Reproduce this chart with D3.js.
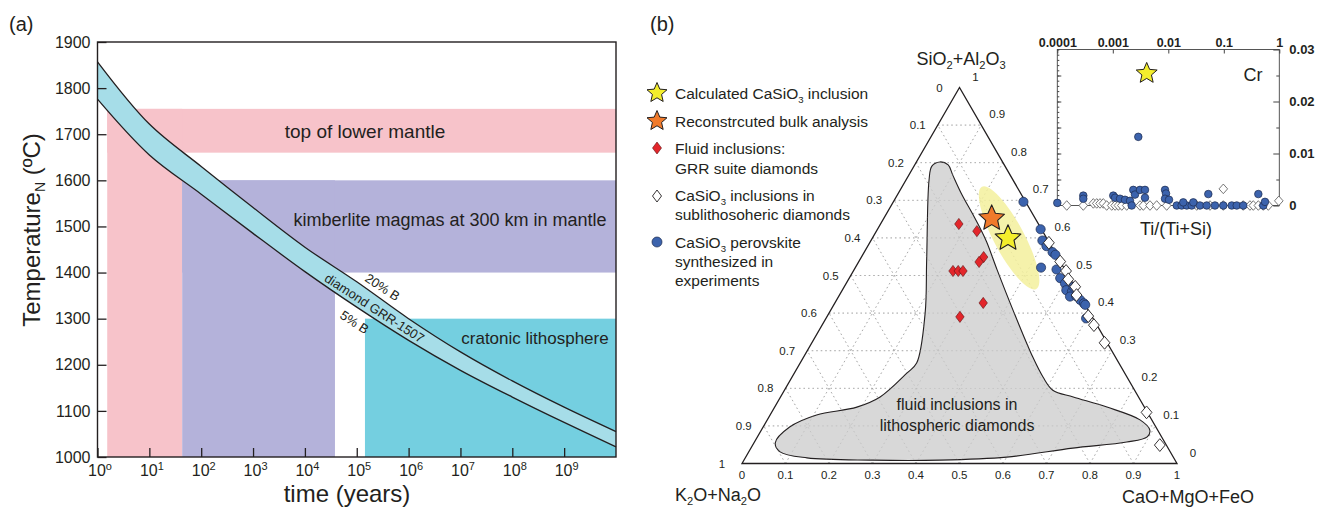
<!DOCTYPE html>
<html lang="en">
<head>
<meta charset="UTF-8">
<script src="https://d3js.org/d3.v7.min.js"></script>
<style>
  body { margin: 0; background: #fff; }
  svg { font-family: "Liberation Sans", Arial, sans-serif; }
  text { fill: #231f20; }
</style>
</head>
<body>
<svg id="fig" width="1324" height="512"></svg>
<script>
// ---------- panel (a) data ----------
const years = [1, 1e1, 1e2, 1e3, 1e4, 1e5, 1e6, 1e7, 1e8, 1e9, 1e10];
const upper20B = [1857, 1722, 1630, 1541, 1455, 1380, 1300, 1228, 1165, 1108, 1055];
const lower5B = [1776, 1655, 1570, 1485, 1402, 1325, 1253, 1188, 1130, 1075, 1022];
const tempTicks = [1000, 1100, 1200, 1300, 1400, 1500, 1600, 1700, 1800, 1900];
const timeTicks = [1, 1e1, 1e2, 1e3, 1e4, 1e5, 1e6, 1e7, 1e8, 1e9];
const timeExp = ["o", "1", "2", "3", "4", "5", "6", "7", "8", "9"];
// shaded fields: [tmin, tmax] years and [Tmin, Tmax]
const zoneKind = ["mantle", "mantle", "kimb", "kimb", "craton"];
const zoneTime = [[1.54, 1e10], [1.54, 43], [43, 1e10], [43, 3.8e4], [1.44e5, 1e10]];
const zoneTemp = [[1660, 1755], [1000, 1755], [1400, 1600], [1000, 1600], [1000, 1300]];

// ---------- panel (b) ternary data: [CaO+MgO+FeO, SiO2+Al2O3] ----------
const fluidField = [[0.054,0.802],[0.077,0.794],[0.101,0.767],[0.149,0.714],[0.196,0.666],[0.239,0.621],
  [0.268,0.589],[0.329,0.515],[0.419,0.408],[0.527,0.283],[0.577,0.230],[0.617,0.195],[0.673,0.177],
  [0.764,0.150],[0.857,0.116],[0.893,0.089],[0.896,0.071],[0.856,0.057],[0.740,0.041],[0.600,0.017],
  [0.450,0.009],[0.296,0.009],[0.142,0.015],[0.072,0.031],[0.049,0.055],[0.061,0.097],[0.107,0.129],
  [0.189,0.150],[0.229,0.177],[0.259,0.241],[0.268,0.267],[0.221,0.400],[0.154,0.541],[0.053,0.754],[0.041,0.791]];
const grrFluids = [[0.180,0.637],[0.231,0.618],[0.281,0.549],[0.277,0.536],[0.229,0.512],[0.241,0.512],
  [0.252,0.512],[0.341,0.427],[0.306,0.390]];
const sublithoCaSiO3 = [[0.412,0.587],[0.463,0.537],[0.489,0.512],[0.505,0.490],[0.531,0.470],[0.545,0.448],
  [0.600,0.392],[0.625,0.368],[0.673,0.321],[0.862,0.136],[0.936,0.049]];
const perovskiteExp = [[0.299,0.696],[0.375,0.623],[0.394,0.593],[0.411,0.578],[0.433,0.562],[0.443,0.555],
  [0.427,0.521],[0.465,0.516],[0.485,0.493],[0.503,0.479],[0.515,0.461],[0.530,0.457],[0.532,0.444],
  [0.546,0.445],[0.560,0.435],[0.573,0.426],[0.578,0.422],[0.598,0.386],[0.527,0.470]];
const calcInclusion = [0.312, 0.599];
const bulkAnalysis = [0.248, 0.652];
const highlightCentre = [0.314, 0.600];
const ternTicks = [0, 0.1, 0.2, 0.3, 0.4, 0.5, 0.6, 0.7, 0.8, 0.9, 1];

// ---------- inset data: Ti/(Ti+Si) vs Cr ----------
const insetPerovskite = [[0.0001,0.0005],[0.000294,0.0019],[0.000294,0.0013],[0.00102,0.0019],[0.0011,0.0015],
  [0.00135,0.0013],[0.00166,0.0011],[0.00204,0.0009],[0.00234,0.0030],[0.00251,0.0021],[0.00309,0.0030],
  [0.0038,0.0030],[0.0038,0.0015],[0.00873,0.0030],[0.0091,0.0023],[0.00873,0.0013],[0.0103,0.0011],
  [0.00219,0],[0.0142,0],[0.0174,0],[0.0215,0],[0.0264,0],[0.0372,0],[0.0492,0],[0.0693,0],[0.098,0],
  [0.139,0],[0.171,0],[0.224,0],[0.515,0],[0.0186,0.0006],[0.0282,0.0006],[0.0526,0.0022],[0.419,0.0022],
  [0.552,0.0007],[0.00288,0.0132]];
const insetSublitho = [[0.000148,0],[0.000294,0],[0.000446,0.0004],[0.000513,0.0004],[0.000588,0.0004],
  [0.000675,0.0004],[0.000776,0],[0.000955,0],[0.0011,0],[0.00126,0],[0.00145,0],[0.00178,0],[0.00309,0],
  [0.00355,0],[0.00468,0],[0.00618,0],[0.00935,0],[0.0325,0],[0.0564,0],[0.098,0],[0.098,0.0032],[0.224,0],
  [0.296,0],[0.34,0],[0.419,0],[0.515,0],[0.634,0],[0.98,0.0009]];
const insetStar = [0.00408, 0.0254];
const insetXTicks = [0.0001, 0.001, 0.01, 0.1, 1];
const insetYTicks = [0, 0.01, 0.02, 0.03];

const colors = { mantle: "#f7c3ca", kimb: "#b4b2da", craton: "#74cfe0", band: "#a6dde8",
  field: "#d4d4d4", glow: "#f3f09c", red: "#e3262b", blue: "#3c63ad", yellow: "#f4ee2c", orange: "#f07a2b" };

const svg = d3.select("#fig");

function star(R, r) {
  const pts = [];
  for (let i = 0; i < 10; i++) {
    const ang = -Math.PI / 2 + i * Math.PI / 5;
    const rr = i % 2 ? r : R;
    pts.push([rr * Math.cos(ang), rr * Math.sin(ang)]);
  }
  return "M" + pts.join("L") + "Z";
}
function rhombus(w, h) {
  return `M0,${-h}L${w},0L0,${h}L${-w},0Z`;
}

// =================== panel (a) ===================
const x = d3.scaleLog().domain([1, 1e10]).range([97.5, 616]);
const y = d3.scaleLinear().domain([1000, 1900]).range([457, 42]);
const a = svg.append("g");

a.selectAll("rect.zone").data(zoneKind).join("rect")
  .attr("class", "zone")
  .attr("x", (d, i) => x(zoneTime[i][0]))
  .attr("width", (d, i) => x(zoneTime[i][1]) - x(zoneTime[i][0]))
  .attr("y", (d, i) => y(zoneTemp[i][1]))
  .attr("height", (d, i) => y(zoneTemp[i][0]) - y(zoneTemp[i][1]))
  .attr("fill", d => colors[d]);

const band = years.map((t, i) => ({ t, hi: upper20B[i], lo: lower5B[i] }));
a.append("path").datum(band)
  .attr("fill", colors.band)
  .attr("d", d3.area().curve(d3.curveCatmullRom).x(d => x(d.t)).y0(d => y(d.lo)).y1(d => y(d.hi)));
["hi", "lo"].forEach(k => {
  a.append("path").datum(band)
    .attr("fill", "none").attr("stroke", "#231f20").attr("stroke-width", 1.3)
    .attr("d", d3.line().curve(d3.curveCatmullRom).x(d => x(d.t)).y(d => y(d[k])));
});

// zone labels
a.append("text").attr("x", 365).attr("y", 138).attr("text-anchor", "middle")
  .style("font-size", "19px").text("top of lower mantle");
a.append("text").attr("x", 450).attr("y", 226).attr("text-anchor", "middle")
  .style("font-size", "18px").text("kimberlite magmas at 300 km in mantle");
a.append("text").attr("x", 535).attr("y", 344).attr("text-anchor", "middle")
  .style("font-size", "17px").text("cratonic lithosphere");
[["20% B", 380, 291], ["diamond GRR-1507", 372, 312], ["5% B", 352, 326]].forEach(([s, px, py]) => {
  a.append("text").attr("transform", `translate(${px},${py}) rotate(33)`)
    .attr("text-anchor", "middle").style("font-size", "13px").text(s);
});

// axes
const yAx = a.append("g").attr("transform", "translate(97.5,0)")
  .call(d3.axisLeft(y).tickValues(tempTicks).tickFormat(d3.format("d"))
    .tickSizeInner(-9).tickSizeOuter(0).tickPadding(7));
yAx.selectAll("text").style("font-size", "16px").attr("fill", "#231f20");
const xAx = a.append("g").attr("transform", "translate(0,457)")
  .call(d3.axisBottom(x).tickValues(timeTicks).tickSizeInner(-9).tickSizeOuter(0).tickPadding(8));
xAx.selectAll("text").text(null).attr("dx", 2).style("font-size", "16px").attr("fill", "#231f20")
  .each(function (d, i) {
    const t = d3.select(this);
    t.append("tspan").text("10");
    t.append("tspan").attr("dy", -6).style("font-size", "11px").text(timeExp[i]);
  });
[yAx, xAx].forEach(g => { g.select(".domain").remove(); g.selectAll("line").attr("stroke", "#231f20").attr("stroke-width", 1.3); });
a.append("rect").attr("x", 97.5).attr("y", 42).attr("width", 616 - 97.5).attr("height", 457 - 42)
  .attr("fill", "none").attr("stroke", "#231f20").attr("stroke-width", 1.4);

a.append("text").attr("x", 347).attr("y", 502).attr("text-anchor", "middle")
  .style("font-size", "24px").text("time (years)");
const yt = a.append("text").attr("transform", "translate(40,230) rotate(-90)")
  .attr("text-anchor", "middle").style("font-size", "24px");
yt.append("tspan").text("Temperature");
yt.append("tspan").attr("dy", 5).style("font-size", "14px").text("N");
yt.append("tspan").attr("dy", -5).text(" (\u00baC)");
svg.append("text").attr("x", 9).attr("y", 31).style("font-size", "20px").text("(a)");

// =================== panel (b) ternary ===================
const tx = d3.scaleLinear().domain([0, 1]).range([742, 1177]);
const ty = d3.scaleLinear().domain([0, 1]).range([463.5, 87.5]);
const P = ([c, s]) => [tx(c + s / 2), ty(s)];
const b = svg.append("g");

svg.append("text").attr("x", 650).attr("y", 31).style("font-size", "20px").text("(b)");

// grid
const inner = ternTicks.slice(1, -1);
const gridSegs = [];
inner.forEach(k => {
  gridSegs.push([[0, k], [1 - k, k]]);
  gridSegs.push([[k, 0], [k, 1 - k]]);
  gridSegs.push([[1 - k, 0], [0, 1 - k]]);
});
b.selectAll("line.grid").data(gridSegs).join("line")
  .attr("class", "grid")
  .attr("x1", d => P(d[0])[0]).attr("y1", d => P(d[0])[1])
  .attr("x2", d => P(d[1])[0]).attr("y2", d => P(d[1])[1])
  .attr("stroke", "#9a9a9a").attr("stroke-width", 0.8).attr("stroke-dasharray", "1.5,3");

// fluid field (grid shows through lightly)
b.append("path").datum(fluidField)
  .attr("d", d3.line().curve(d3.curveCatmullRomClosed.alpha(0.5)).x(d => P(d)[0]).y(d => P(d)[1]))
  .attr("fill", colors.field).attr("fill-opacity", 0.9).attr("stroke", "#231f20").attr("stroke-width", 1.1);
b.selectAll("line.grid2").data(gridSegs).join("line")
  .attr("class", "grid2")
  .attr("x1", d => P(d[0])[0]).attr("y1", d => P(d[0])[1])
  .attr("x2", d => P(d[1])[0]).attr("y2", d => P(d[1])[1])
  .attr("stroke", "#a8a8a8").attr("stroke-width", 0.6).attr("stroke-dasharray", "1.5,3").attr("opacity", 0.5);

// triangle frame
b.append("path").datum([[0, 0], [1, 0], [0, 1]])
  .attr("d", d => "M" + d.map(P).join("L") + "Z")
  .attr("fill", "none").attr("stroke", "#231f20").attr("stroke-width", 1.3);

// highlight ellipse
const hc = P(highlightCentre);
b.append("ellipse").attr("cx", hc[0]).attr("cy", hc[1])
  .attr("rx", tx(0.133) - tx(0)).attr("ry", tx(0.035) - tx(0))
  .attr("transform", `rotate(62,${hc[0]},${hc[1]})`)
  .attr("fill", colors.glow).attr("opacity", 0.85);

// tick labels
const tl = b.append("g").style("font-size", "11.5px").attr("text-anchor", "middle");
ternTicks.forEach(k => {
  tl.append("text").attr("x", tx(k)).attr("y", 479).attr("fill", "#333").text(k);
  const pl = P([0, 1 - k]);
  tl.append("text").attr("x", pl[0] - 20).attr("y", pl[1] + 4).attr("fill", "#333").text(k);
  const pr = P([1 - k, k]);
  tl.append("text").attr("x", pr[0] + 16).attr("y", pr[1] - 7).attr("fill", "#333").text(k);
});

function subLabel(g, px, py, parts, size, anchor) {
  const t = g.append("text").attr("x", px).attr("y", py).attr("text-anchor", anchor).style("font-size", size + "px");
  let last = 0;
  parts.forEach(([s, sub]) => {
    t.append("tspan").attr("dy", sub ? 4 : (last ? -4 : 0))
      .style("font-size", sub ? (size * 0.62) + "px" : null).text(s);
    last = sub;
  });
  return t;
}
subLabel(b, 961, 65, [["SiO", 0], ["2", 1], ["+Al", 0], ["2", 1], ["O", 0], ["3", 1]], 18, "middle");
subLabel(b, 718, 501, [["K", 0], ["2", 1], ["O+Na", 0], ["2", 1], ["O", 0]], 18, "middle");
b.append("text").attr("x", 1188).attr("y", 503).attr("text-anchor", "middle").style("font-size", "18px").text("CaO+MgO+FeO");

b.append("text").attr("x", 957).attr("y", 410).attr("text-anchor", "middle").style("font-size", "16px").text("fluid inclusions in");
b.append("text").attr("x", 957).attr("y", 431).attr("text-anchor", "middle").style("font-size", "16px").text("lithospheric diamonds");

// markers
b.selectAll("path.red").data(grrFluids).join("path").attr("class", "red")
  .attr("transform", d => `translate(${P(d)})`).attr("d", rhombus(4.2, 5.6))
  .attr("fill", colors.red).attr("stroke", "#5a1010").attr("stroke-width", 0.6);
b.selectAll("circle.blue").data(perovskiteExp).join("circle").attr("class", "blue")
  .attr("cx", d => P(d)[0]).attr("cy", d => P(d)[1]).attr("r", 4.6)
  .attr("fill", colors.blue).attr("stroke", "#1c2b4f").attr("stroke-width", 0.7);
b.selectAll("path.white").data(sublithoCaSiO3).join("path").attr("class", "white")
  .attr("transform", d => `translate(${P(d)})`).attr("d", rhombus(5.4, 6.4))
  .attr("fill", "#fff").attr("stroke", "#231f20").attr("stroke-width", 0.9);
[[bulkAnalysis, colors.orange], [calcInclusion, colors.yellow]].forEach(([d, c]) => {
  b.append("path").attr("transform", `translate(${P(d)})`).attr("d", star(13.5, 6.3))
    .attr("fill", c).attr("stroke", "#231f20").attr("stroke-width", 1.1).attr("stroke-linejoin", "round");
});

// legend
const lg = svg.append("g").style("font-size", "15.5px");
lg.append("path").attr("transform", "translate(657,93)").attr("d", star(10.5, 4.8))
  .attr("fill", colors.yellow).attr("stroke", "#231f20").attr("stroke-width", 1);
lg.append("path").attr("transform", "translate(657,121)").attr("d", star(10.5, 4.8))
  .attr("fill", colors.orange).attr("stroke", "#231f20").attr("stroke-width", 1);
lg.append("path").attr("transform", "translate(657,148)").attr("d", rhombus(4.5, 6))
  .attr("fill", colors.red).attr("stroke", "#5a1010").attr("stroke-width", 0.6);
lg.append("path").attr("transform", "translate(657,196)").attr("d", rhombus(4.5, 6))
  .attr("fill", "#fff").attr("stroke", "#231f20").attr("stroke-width", 0.9);
lg.append("circle").attr("cx", 657).attr("cy", 242).attr("r", 5)
  .attr("fill", colors.blue).attr("stroke", "#1c2b4f").attr("stroke-width", 0.7);
subLabel(lg, 675, 99, [["Calculated CaSiO", 0], ["3", 1], [" inclusion", 0]], 15.5, "start");
lg.append("text").attr("x", 675).attr("y", 127).text("Reconstrcuted bulk analysis");
lg.append("text").attr("x", 675).attr("y", 154).text("Fluid inclusions:");
lg.append("text").attr("x", 675).attr("y", 174).text("GRR suite diamonds");
subLabel(lg, 675, 201, [["CaSiO", 0], ["3", 1], [" inclusions in", 0]], 15.5, "start");
lg.append("text").attr("x", 675).attr("y", 220).text("sublithosoheric diamonds");
subLabel(lg, 675, 248, [["CaSiO", 0], ["3", 1], [" perovskite", 0]], 15.5, "start");
lg.append("text").attr("x", 675).attr("y", 267).text("synthesized in");
lg.append("text").attr("x", 675).attr("y", 286).text("experiments");

// =================== inset ===================
const ix = d3.scaleLog().domain([1e-4, 1]).range([1057.3, 1279.3]);
const iy = d3.scaleLinear().domain([0, 0.03]).range([205.5, 49.5]);
const ins = svg.append("g");
ins.append("rect").attr("x", 1057.3).attr("y", 49.5).attr("width", 222).attr("height", 156)
  .attr("fill", "none").attr("stroke", "#444").attr("stroke-width", 0.9);

const minorY = d3.range(0, 0.0301, 0.001);
ins.append("g").attr("transform", "translate(1057.3,0)")
  .call(d3.axisLeft(iy).tickValues(minorY).tickSizeInner(-2).tickSizeOuter(0).tickFormat(""))
  .call(g => g.select(".domain").remove());
ins.append("g").attr("transform", "translate(1057.3,0)")
  .call(d3.axisLeft(iy).tickValues([0.005, 0.01, 0.015, 0.02, 0.025]).tickSizeInner(-4).tickSizeOuter(0).tickFormat(""))
  .call(g => g.select(".domain").remove());
const rAx = ins.append("g").attr("transform", "translate(1279.3,0)")
  .call(d3.axisRight(iy).tickValues(insetYTicks).tickSizeInner(-6).tickSizeOuter(0).tickPadding(10)
    .tickFormat(d => d === 0 ? "0" : d.toFixed(2)))
  .call(g => g.select(".domain").remove());
rAx.selectAll("text").style("font-size", "13px").style("font-weight", "bold").attr("fill", "#231f20");
ins.append("g").attr("transform", "translate(1279.3,0)")
  .call(d3.axisRight(iy).tickValues([0.005, 0.015, 0.025]).tickSizeInner(-3).tickSizeOuter(0).tickFormat(""))
  .call(g => g.select(".domain").remove());
const tAx = ins.append("g").attr("transform", "translate(0,49.5)")
  .call(d3.axisTop(ix).tickValues(insetXTicks).tickSizeInner(-4).tickSizeOuter(0).tickPadding(3)
    .tickFormat(d => String(d)))
  .call(g => g.select(".domain").remove());
tAx.selectAll("text").style("font-size", "12.5px").style("font-weight", "bold").attr("fill", "#231f20");
ins.selectAll(".tick line").attr("stroke", "#444");

ins.selectAll("path.iw").data(insetSublitho).join("path").attr("class", "iw")
  .attr("transform", d => `translate(${ix(d[0])},${iy(d[1])})`).attr("d", rhombus(4.3, 4.8))
  .attr("fill", "#fff").attr("stroke", "#555").attr("stroke-width", 0.8);
ins.selectAll("circle.ib").data(insetPerovskite).join("circle").attr("class", "ib")
  .attr("cx", d => ix(d[0])).attr("cy", d => iy(d[1])).attr("r", 3.8)
  .attr("fill", colors.blue).attr("stroke", "#1c2b4f").attr("stroke-width", 0.7);
ins.append("path").attr("transform", `translate(${ix(insetStar[0])},${iy(insetStar[1])})`)
  .attr("d", star(11, 5)).attr("fill", colors.yellow).attr("stroke", "#231f20").attr("stroke-width", 1);

ins.append("text").attr("x", 1253).attr("y", 81).attr("text-anchor", "middle").style("font-size", "18px").text("Cr");
ins.append("text").attr("x", 1176).attr("y", 235).attr("text-anchor", "middle").style("font-size", "18px").text("Ti/(Ti+Si)");
</script>
</body>
</html>
